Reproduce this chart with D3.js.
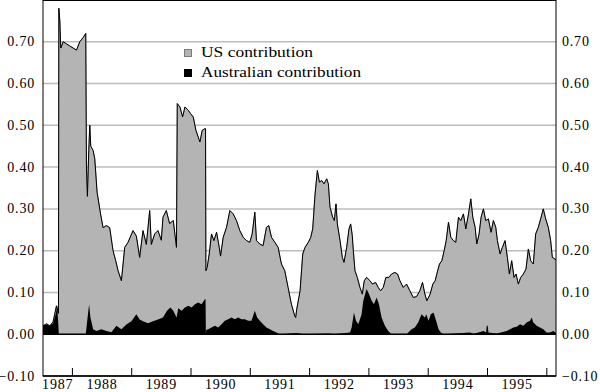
<!DOCTYPE html>
<html><head><meta charset="utf-8">
<script src="https://cdn.jsdelivr.net/npm/d3@7"></script>
<style>body{margin:0;background:#fff}svg{display:block}</style>
</head><body>
<script>
// Total (top line) series: decimal year and value
const totalYear = [1987.504,1987.563,1987.619,1987.675,1987.731,1987.765,1987.771,1987.788,1987.804,1987.844,1987.900,1987.956,1988.012,1988.068,1988.124,1988.180,1988.225,1988.237,1988.253,1988.276,1988.293,1988.309,1988.349,1988.377,1988.416,1988.472,1988.517,1988.573,1988.629,1988.685,1988.730,1988.770,1988.826,1988.882,1988.938,1989.022,1989.078,1989.134,1989.190,1989.247,1989.303,1989.331,1989.387,1989.443,1989.499,1989.527,1989.583,1989.639,1989.701,1989.755,1989.768,1989.813,1989.858,1989.898,1989.954,1989.993,1990.038,1990.083,1990.122,1990.150,1990.189,1990.234,1990.245,1990.251,1990.273,1990.307,1990.346,1990.386,1990.431,1990.476,1990.498,1990.543,1990.599,1990.655,1990.711,1990.767,1990.823,1990.880,1990.936,1990.992,1991.031,1991.076,1991.104,1991.160,1991.216,1991.272,1991.312,1991.357,1991.413,1991.469,1991.525,1991.581,1991.637,1991.693,1991.749,1991.765,1991.783,1991.839,1991.884,1991.923,1991.979,1992.019,1992.052,1992.092,1992.131,1992.165,1992.204,1992.243,1992.288,1992.316,1992.344,1992.389,1992.417,1992.445,1992.468,1992.513,1992.552,1992.580,1992.625,1992.664,1992.692,1992.720,1992.737,1992.765,1992.804,1992.849,1992.888,1992.922,1992.961,1993.018,1993.062,1993.113,1993.158,1993.197,1993.242,1993.287,1993.337,1993.382,1993.438,1993.483,1993.523,1993.579,1993.635,1993.691,1993.747,1993.803,1993.859,1993.904,1993.944,1993.977,1994.033,1994.078,1994.117,1994.145,1994.190,1994.230,1994.269,1994.303,1994.342,1994.381,1994.426,1994.465,1994.510,1994.550,1994.594,1994.634,1994.679,1994.718,1994.752,1994.791,1994.819,1994.858,1994.892,1994.931,1994.970,1995.015,1995.060,1995.099,1995.139,1995.167,1995.212,1995.251,1995.296,1995.335,1995.369,1995.408,1995.447,1995.481,1995.520,1995.560,1995.604,1995.649,1995.689,1995.728,1995.773,1995.812,1995.857,1995.896,1995.941,1995.981,1996.025,1996.065,1996.093,1996.138,1996.166];
const totalValue = [0.020,0.025,0.020,0.030,0.068,0.050,0.780,0.750,0.685,0.700,0.695,0.690,0.685,0.680,0.700,0.710,0.720,0.400,0.330,0.440,0.500,0.450,0.440,0.420,0.340,0.290,0.255,0.260,0.255,0.200,0.176,0.152,0.128,0.208,0.220,0.248,0.235,0.184,0.248,0.215,0.296,0.215,0.240,0.248,0.225,0.280,0.296,0.265,0.272,0.208,0.552,0.544,0.520,0.544,0.536,0.528,0.520,0.488,0.472,0.460,0.488,0.492,0.492,0.152,0.160,0.192,0.240,0.224,0.244,0.208,0.187,0.232,0.256,0.296,0.288,0.272,0.248,0.232,0.224,0.220,0.240,0.292,0.224,0.216,0.212,0.256,0.260,0.232,0.220,0.208,0.168,0.152,0.112,0.072,0.044,0.040,0.060,0.104,0.192,0.208,0.220,0.232,0.252,0.336,0.392,0.364,0.368,0.360,0.372,0.360,0.304,0.280,0.272,0.312,0.264,0.224,0.184,0.172,0.208,0.252,0.264,0.236,0.200,0.152,0.136,0.112,0.096,0.128,0.136,0.128,0.120,0.124,0.112,0.104,0.112,0.136,0.136,0.144,0.148,0.144,0.128,0.112,0.120,0.104,0.088,0.090,0.104,0.124,0.096,0.080,0.096,0.120,0.128,0.144,0.168,0.176,0.200,0.224,0.268,0.232,0.224,0.220,0.280,0.272,0.288,0.252,0.288,0.324,0.280,0.256,0.216,0.240,0.280,0.300,0.272,0.276,0.244,0.272,0.256,0.224,0.192,0.208,0.224,0.184,0.144,0.176,0.136,0.144,0.120,0.136,0.144,0.156,0.204,0.176,0.168,0.240,0.256,0.276,0.300,0.276,0.256,0.224,0.184,0.180,0.176];

// Australian contribution series
const ausYear = [1987.504,1987.563,1987.619,1987.675,1987.720,1987.743,1987.760,1987.771,1988.225,1988.248,1988.281,1988.304,1988.349,1988.405,1988.489,1988.573,1988.657,1988.742,1988.826,1988.910,1988.994,1989.078,1989.134,1989.190,1989.275,1989.359,1989.443,1989.527,1989.595,1989.651,1989.701,1989.757,1989.785,1989.841,1989.898,1989.954,1990.010,1990.066,1990.122,1990.178,1990.234,1990.245,1990.251,1990.257,1990.290,1990.346,1990.403,1990.459,1990.515,1990.571,1990.627,1990.683,1990.739,1990.795,1990.852,1990.908,1990.964,1991.020,1991.076,1991.115,1991.160,1991.216,1991.272,1991.329,1991.385,1991.441,1991.497,1991.783,1991.895,1992.344,1992.400,1992.681,1992.709,1992.748,1992.782,1992.821,1992.877,1992.905,1992.961,1993.001,1993.046,1993.085,1993.130,1993.169,1993.214,1993.270,1993.326,1993.382,1993.635,1993.663,1993.719,1993.775,1993.831,1993.887,1993.944,1993.966,1994.005,1994.044,1994.089,1994.134,1994.174,1994.213,1994.258,1994.707,1994.763,1994.847,1994.931,1994.976,1994.987,1995.004,1995.015,1995.156,1995.324,1995.380,1995.436,1995.492,1995.548,1995.604,1995.661,1995.717,1995.745,1995.773,1995.829,1995.885,1995.941,1995.997,1996.053,1996.110,1996.166];
const ausValue = [0.020,0.023,0.020,0.026,0.049,0.068,0.030,0.000,0.000,0.030,0.072,0.040,0.012,0.008,0.012,0.008,0.005,0.020,0.012,0.023,0.031,0.048,0.035,0.031,0.026,0.031,0.035,0.040,0.056,0.064,0.056,0.040,0.062,0.056,0.064,0.068,0.064,0.072,0.076,0.072,0.084,0.084,0.000,0.010,0.012,0.016,0.020,0.016,0.024,0.032,0.036,0.040,0.036,0.040,0.036,0.036,0.032,0.032,0.056,0.040,0.032,0.024,0.016,0.012,0.008,0.004,0.000,0.003,0.000,0.002,0.000,0.004,0.016,0.052,0.032,0.024,0.048,0.080,0.108,0.096,0.080,0.072,0.088,0.072,0.040,0.020,0.008,0.000,0.000,0.004,0.012,0.016,0.028,0.048,0.040,0.048,0.032,0.048,0.052,0.032,0.012,0.004,0.000,0.004,0.001,0.004,0.008,0.004,0.020,0.020,0.004,0.002,0.008,0.012,0.016,0.018,0.024,0.020,0.028,0.032,0.040,0.028,0.020,0.016,0.012,0.004,0.004,0.008,0.002];

const yTicks = [-0.1,0,0.1,0.2,0.3,0.4,0.5,0.6,0.7];
const gridTicks = [0.1,0.2,0.3,0.4,0.5,0.6,0.7];
const yearTicks = [1988,1989,1990,1991,1992,1993,1994,1995,1996];
const yearLabels = ["1987","1988","1989","1990","1991","1992","1993","1994","1995"];
const legendLabels = ["US contribution","Australian contribution"];

const FONT = "'Liberation Serif', 'DejaVu Serif', 'Times New Roman', serif";
const W = 600, H = 392;
const L = 43, R = 556, T = 0, B = 376;
const x = d3.scaleLinear().domain([1987.504, 1996.155]).range([L, R]);
const y = d3.scaleLinear().domain([-0.1, 0.8]).range([B, T]);

const svg = d3.select("body").append("svg").attr("width", W).attr("height", H)
  .attr("font-family", FONT);

svg.append("defs").append("clipPath").attr("id","clip")
  .append("rect").attr("x", L).attr("y", T).attr("width", R - L).attr("height", B - T);

// gridlines
svg.append("g").selectAll("line").data(gridTicks).join("line")
  .attr("x1", L).attr("x2", R).attr("y1", d => y(d)).attr("y2", d => y(d))
  .attr("stroke", "#bcbcbc").attr("stroke-width", 1.5);

const total = totalYear.map((t, i) => [t, totalValue[i]]);
const aus = ausYear.map((t, i) => [t, ausValue[i]]);

const g = svg.append("g").attr("clip-path", "url(#clip)");
const area = d3.area().x(d => x(d[0])).y0(y(0)).y1(d => y(d[1]));
g.append("path").datum(total).attr("d", area)
  .attr("fill", "#b4b4b4").attr("stroke", "#7c7c7c").attr("stroke-width", 0.8);
g.append("path").datum(aus).attr("d", area).attr("fill", "#000");
g.append("path").datum(total).attr("d", d3.line().x(d => x(d[0])).y(d => y(d[1])))
  .attr("fill", "none").attr("stroke", "#000").attr("stroke-width", 1);

// zero line
svg.append("line").attr("x1", L).attr("x2", R).attr("y1", y(0)).attr("y2", y(0))
  .attr("stroke", "#000").attr("stroke-width", 1.5);

// frame
svg.append("rect").attr("x", L).attr("y", 0.5).attr("width", R - L).attr("height", B - 0.5)
  .attr("fill", "none").attr("stroke", "#000").attr("stroke-width", 1);
svg.append("line").attr("x1", L).attr("x2", R).attr("y1", B).attr("y2", B)
  .attr("stroke", "#000").attr("stroke-width", 1.5);

// x ticks (inside, upward)
svg.append("g").selectAll("line").data(yearTicks).join("line")
  .attr("x1", d => x(d)).attr("x2", d => x(d)).attr("y1", B).attr("y2", B - 8)
  .attr("stroke", "#000").attr("stroke-width", 1);

const x0 = x.domain()[0];
svg.append("g").selectAll("text").data(yearLabels).join("text")
  .attr("x", (d, i) => { const yr = +d; const a = Math.max(yr, x0); return x((a + yr + 1) / 2); })
  .attr("y", 389).attr("text-anchor", "middle").attr("font-size", 14)
  .attr("letter-spacing", 0.8).text(d => d);

const fmt = d3.format(".2f");
svg.append("g").selectAll("text").data(yTicks).join("text")
  .attr("x", 35).attr("y", d => y(d) + 4.5).attr("text-anchor", "end")
  .attr("font-size", 14).attr("letter-spacing", 0.8).text(d => fmt(d));
svg.append("g").selectAll("text").data(yTicks).join("text")
  .attr("x", 562).attr("y", d => y(d) + 4.5).attr("text-anchor", "start")
  .attr("font-size", 14).attr("letter-spacing", 0.8).text(d => fmt(d));

// legend
const leg = svg.append("g");
const legFill = ["#b4b4b4", "#000"];
const legLen = [112, 160];
legendLabels.forEach((lab, i) => {
  leg.append("rect").attr("x", 184.5).attr("y", 49.5 + i * 20).attr("width", 7).attr("height", 7)
    .attr("fill", legFill[i]).attr("stroke", i === 0 ? "#7c7c7c" : "#000").attr("stroke-width", 1);
  leg.append("text").attr("x", 201).attr("y", 57 + i * 20).attr("font-size", 14)
    .attr("textLength", legLen[i]).attr("lengthAdjust", "spacingAndGlyphs").text(lab);
});
</script>
</body></html>
